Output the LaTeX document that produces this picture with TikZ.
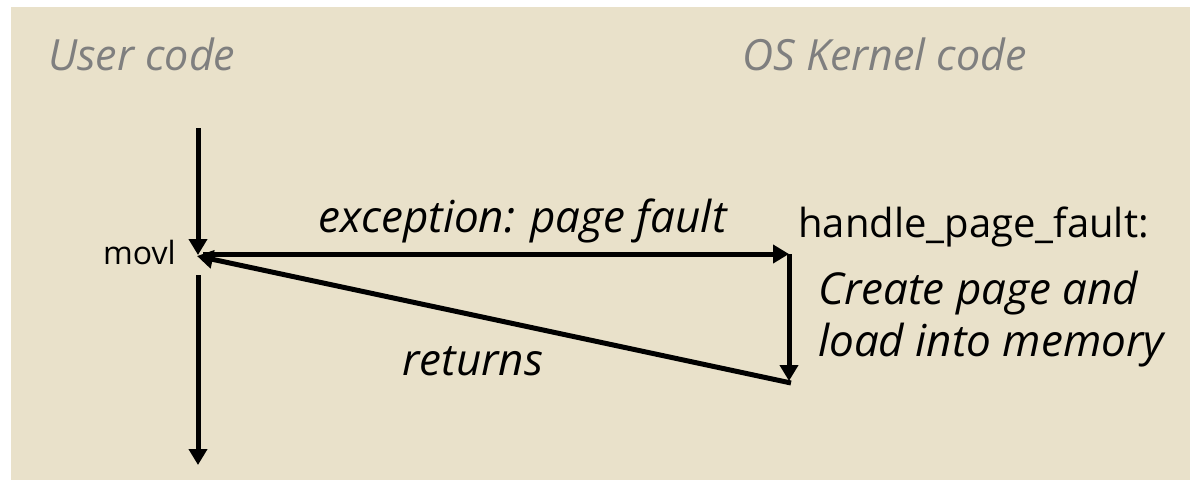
\documentclass[tikz,border=0pt]{standalone}
\usepackage{fontspec}
\setmainfont{Open Sans}
\usetikzlibrary{arrows.meta}
\definecolor{bg}{RGB}{233,225,202}
\definecolor{hdr}{RGB}{127,127,127}
\begin{document}
\begin{tikzpicture}[x=1pt,y=-1pt,
  big/.style={font=\fontsize{40}{48}\selectfont, inner sep=0, anchor=base west},
  bigit/.style={big, font=\fontsize{44}{52}\selectfont\itshape},
  hdrit/.style={big, text=hdr, font=\fontsize{43}{52}\selectfont\itshape},
  small/.style={font=\fontsize{32}{38}\selectfont, inner sep=0, anchor=base west},
  arr/.style={line width=5pt, -{Triangle[width=18pt,length=16pt]}}]
\useasboundingbox (0,0) rectangle (1190,480);
\fill[bg] (11,7) rectangle (1190,480);
% headers
\node[hdrit] (user) at (48,70) {User code};
\node[hdrit] (kernel) at (742,70) {OS Kernel code};
% labels
\node[small] (movl) at (103,264) {movl};
\node[bigit] (exc) at (318,232) {exception: page fault};
\node[big] (handler) at (798,237) {handle\_page\_fault:};
\node[bigit] (create) at (818,304) {Create page and};
\node[bigit] (load) at (818,356) {load into memory};
\node[bigit] (ret) at (402,375) {returns};
% points
\coordinate (utop) at (198,128);
\coordinate (fault) at (198,255);
\coordinate (ustart) at (203,254);
\coordinate (hstart) at (789,254);
\coordinate (hend) at (789,381);
\coordinate (rstart) at (791,383);
\coordinate (rtip) at (197,256);
\coordinate (ucont) at (198,275);
\coordinate (uend) at (198,465);
% connectors
\draw[arr] (utop) -- (fault);
\draw[arr] (ustart) -- (hstart);
\draw[arr] (hstart) -- (hend);
\draw[arr] (rstart) -- (rtip);
\draw[arr] (ucont) -- (uend);
\end{tikzpicture}
\end{document}
